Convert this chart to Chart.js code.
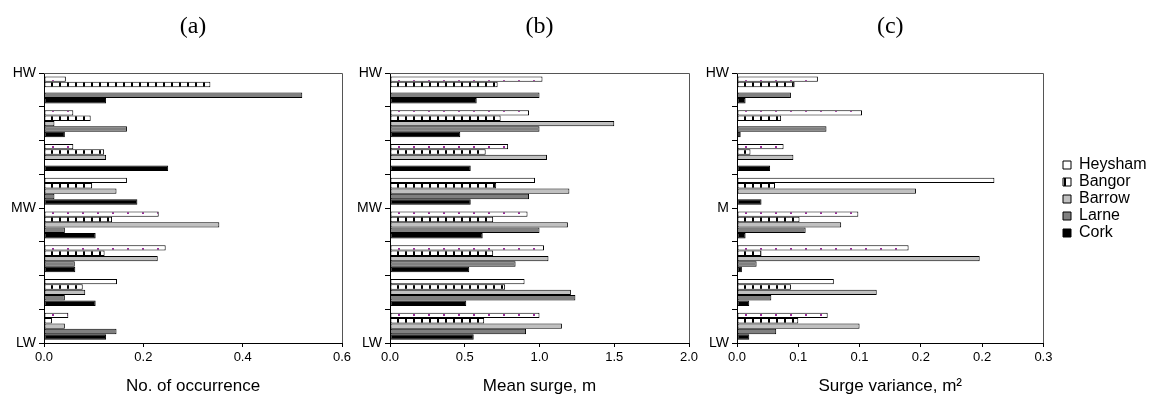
<!DOCTYPE html>
<html><head><meta charset="utf-8">
<script src="https://cdn.jsdelivr.net/npm/chart.js@4/dist/chart.umd.min.js"></script>
<style>
html,body{margin:0;padding:0;background:#fff;}
#wrap{position:relative;width:1151px;height:400px;overflow:hidden;background:#fff;}
canvas{position:absolute;top:0;}
</style></head><body>
<div id="wrap">
<canvas id="ca" width="360" height="400" style="left:0px"></canvas>
<canvas id="cb" width="361" height="400" style="left:346px"></canvas>
<canvas id="cc" width="458" height="400" style="left:693px"></canvas>
</div>
<script>
// ---- data ----
const phaseBins = ['HW-1', '1-2', '2-3', '3-MW', 'MW-5', '5-6', '6-7', '7-LW'];
const stations = ['Heysham', 'Bangor', 'Barrow', 'Larne', 'Cork'];

// (a) No. of occurrence
const occHeysham = [0.044, 0.059, 0.059, 0.167, 0.231, 0.245, 0.147, 0.049];
const occBangor  = [0.335, 0.094, 0.121, 0.097, 0.137, 0.122, 0.078, 0.016];
const occBarrow  = [0, 0.021, 0.125, 0.146, 0.353, 0.229, 0.083, 0.042];
const occLarne   = [0.520, 0.167, 0, 0.021, 0.042, 0.062, 0.042, 0.146];
const occCork    = [0.125, 0.042, 0.250, 0.188, 0.104, 0.063, 0.104, 0.125];

// (b) Mean surge, m
const msHeysham = [1.02, 0.93, 0.79, 0.97, 0.92, 1.03, 0.90, 1.00];
const msBangor  = [0.72, 0.74, 0.64, 0.71, 0.69, 0.69, 0.77, 0.63];
const msBarrow  = [0, 1.50, 1.05, 1.20, 1.19, 1.06, 1.21, 1.15];
const msLarne   = [1.00, 1.00, 0, 0.93, 1.00, 0.84, 1.24, 0.91];
const msCork    = [0.58, 0.47, 0.54, 0.54, 0.62, 0.53, 0.51, 0.56];

// (c) Surge variance, m^2
const svHeysham = [0.066, 0.102, 0.038, 0.210, 0.099, 0.140, 0.079, 0.074];
const svBangor  = [0.047, 0.036, 0.011, 0.031, 0.051, 0.020, 0.044, 0.050];
const svBarrow  = [0, 0, 0.046, 0.146, 0.085, 0.198, 0.114, 0.100];
const svLarne   = [0.044, 0.073, 0, 0, 0.056, 0.016, 0.028, 0.032];
const svCork    = [0.007, 0.003, 0.027, 0.020, 0.007, 0.004, 0.010, 0.010];

// tick labels
const yTicksAB = ['HW', '', '', '', 'MW', '', '', '', 'LW'];
const yTicksC  = ['HW', '', '', '', 'M', '', '', '', 'LW'];
const xTicksA = ['0.0', '0.2', '0.4', '0.6'];
const xTicksB = ['0.0', '0.5', '1.0', '1.5', '2.0'];
const xTicksC = ['0.0', '0.1', '0.1', '0.2', '0.2', '0.3'];

// ---- styles ----
Chart.defaults.font.family = '"Liberation Sans", Arial, sans-serif';
Chart.defaults.color = '#000';

function dotPattern() {
  const c = document.createElement('canvas'); c.width = 15; c.height = 6;
  const g = c.getContext('2d');
  g.fillStyle = '#fff'; g.fillRect(0, 0, 15, 6);
  g.fillStyle = '#9b2c9b'; g.fillRect(7, 2, 2, 2);
  return g.createPattern(c, 'repeat');
}
function stripePattern() {
  const c = document.createElement('canvas'); c.width = 8; c.height = 6;
  const g = c.getContext('2d');
  g.fillStyle = '#fff'; g.fillRect(0, 0, 8, 6);
  g.fillStyle = '#000'; g.fillRect(3, 0, 2, 6);
  return g.createPattern(c, 'repeat');
}
const fills = [dotPattern(), stripePattern(), '#c0c0c0', '#808080', '#000000'];

const panelFrame = {
  id: 'panelFrame',
  beforeDatasetsDraw(chart) {
    const {ctx, chartArea: a} = chart;
    ctx.save();
    ctx.strokeStyle = '#555'; ctx.lineWidth = 1;
    ctx.beginPath();
    ctx.moveTo(a.left, Math.round(a.top) + 0.5);
    ctx.lineTo(Math.round(a.right) + 0.5, Math.round(a.top) + 0.5);
    ctx.lineTo(Math.round(a.right) + 0.5, a.bottom);
    ctx.stroke();
    ctx.restore();
  }
};
const panelLabel = {
  id: 'panelLabel',
  afterDraw(chart, args, opts) {
    const a = chart.chartArea, ctx = chart.ctx;
    ctx.save();
    ctx.font = '24px "Liberation Serif", "Times New Roman", serif';
    ctx.fillStyle = '#000'; ctx.textAlign = 'center'; ctx.textBaseline = 'middle';
    ctx.fillText(opts.text, (a.left + a.right) / 2, 27);
    ctx.restore();
  }
};
const legendPlace = {
  id: 'legendPlace',
  afterLayout(chart, args, opts) {
    const L = chart.legend;
    if (!L || opts.x === undefined) return;
    const w = L.width, h = L.height;
    L.left = opts.x; L.right = opts.x + w;
    L.top = opts.y; L.bottom = opts.y + h;
  }
};

function makeChart(id, label, axisTitle, series, xMax, xStep, xTicks, yTicks, withLegend, padRight) {
  const datasets = stations.map((s, k) => ({
    label: s,
    data: series[k],
    backgroundColor: fills[k],
    borderColor: '#000',
    borderWidth: 1,
    borderSkipped: false,
    categoryPercentage: 0.8,
    barPercentage: 1.0,
    xAxisID: 'x',
    yAxisID: 'y'
  }));
  return new Chart(document.getElementById(id), {
    type: 'bar',
    data: {labels: phaseBins, datasets},
    plugins: [panelFrame, panelLabel, legendPlace],
    options: {
      indexAxis: 'y',
      responsive: false,
      animation: false,
      events: [],
      layout: {padding: {top: 73, right: padRight, bottom: 0, left: 0}},
      scales: {
        y: {type: 'category', display: false},
        y2: {
          type: 'linear', position: 'left', min: 0, max: 8, reverse: true, offset: false,
          ticks: {stepSize: 1, autoSkip: false, color: '#000', padding: 3,
                  font: {size: 14}, callback: (v) => yTicks[Math.round(v)]},
          grid: {display: true, offset: false, drawOnChartArea: false, drawTicks: true, tickLength: 5, color: '#000'},
          border: {display: true, color: '#000'},
          afterFit: (s) => { s.width = 44; }
        },
        x: {
          type: 'linear', position: 'bottom', min: 0, max: xMax,
          ticks: {stepSize: xStep, autoSkip: false, maxRotation: 0, color: '#000', padding: 3,
                  font: {size: 13}, callback: (v, i) => xTicks[i]},
          grid: {display: true, drawOnChartArea: false, drawTicks: true, tickLength: 4, color: '#000'},
          border: {display: true, color: '#000'},
          title: {display: true, text: axisTitle, color: '#000', font: {size: 17}, padding: {top: 0, bottom: 3}},
          afterFit: (s) => { s.height = 57; }
        }
      },
      plugins: {
        title: {display: false},
        tooltip: {enabled: false},
        panelLabel: {text: label},
        legend: withLegend ? {
          display: true, position: 'right', align: 'start', fullSize: false,
          labels: {boxWidth: 8, boxHeight: 8, padding: 1, color: '#000', font: {size: 16}}
        } : {display: false},
        legendPlace: withLegend ? {x: 369, y: 156} : {}
      }
    }
  });
}

makeChart('ca', '(a)', 'No. of occurrence',
  [occHeysham, occBangor, occBarrow, occLarne, occCork], 0.6, 0.2, xTicksA, yTicksAB, false, 18);
makeChart('cb', '(b)', 'Mean surge, m',
  [msHeysham, msBangor, msBarrow, msLarne, msCork], 2.0, 0.5, xTicksB, yTicksAB, false, 18);
makeChart('cc', '(c)', 'Surge variance, m\u00B2',
  [svHeysham, svBangor, svBarrow, svLarne, svCork], 0.25, 0.05, xTicksC, yTicksC, true, 13);
</script>
</body></html>
